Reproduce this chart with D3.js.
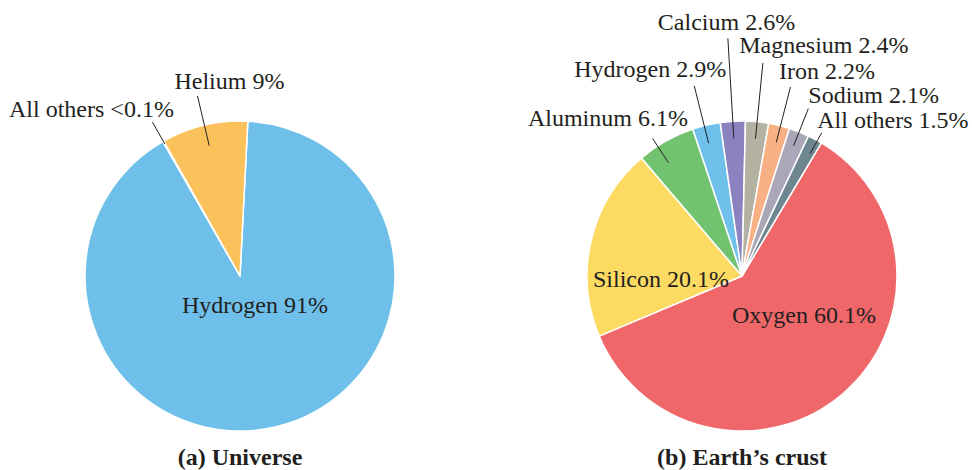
<!DOCTYPE html>
<html>
<head>
<meta charset="utf-8">
<script src="https://cdn.jsdelivr.net/npm/d3@7"></script>
<style>
  body { margin: 0; background: #fff; }
  svg { display: block; }
  text { font-family: "Liberation Serif", "Times New Roman", serif; fill: #231f20; }
  .caption { font-weight: bold; }
  .leader { stroke: #231f20; stroke-width: 1; }
</style>
</head>
<body>
<svg width="972" height="470"></svg>
<script>
// (a) Universe
var universeNames = ["Hydrogen", "All others", "Helium"],
  universeValues = [91, 0.1, 9],
  universeLabels = ["Hydrogen 91%", "All others <0.1%", "Helium 9%"],
  universeColors = ["#6ebfea", "#e8eef2", "#fbc25b"];

// (b) Earth's crust
var crustNames = ["Oxygen", "Silicon", "Aluminum", "Hydrogen", "Calcium",
    "Magnesium", "Iron", "Sodium", "All others"],
  crustValues = [60.1, 20.1, 6.1, 2.9, 2.6, 2.4, 2.2, 2.1, 1.5],
  crustLabels = ["Oxygen 60.1%", "Silicon 20.1%", "Aluminum 6.1%", "Hydrogen 2.9%",
    "Calcium 2.6%", "Magnesium 2.4%", "Iron 2.2%", "Sodium 2.1%", "All others 1.5%"],
  crustColors = ["#f0676a", "#fdda62", "#72c36f", "#6fc0ea", "#8a83c0",
    "#b2b1a2", "#f8b084", "#aaa8b8", "#6e8690"];

var radius = 155,
  fontSize = "24px",
  svg = d3.select("svg");

// label placement: inside labels use dx/dy from the centre, the rest get a radial leader
var universeLayout = [
  {inside: true, dx: 15, dy: 37},
  {r1: 152, r2: 177, da: 0, frac: 0.87, up: 5},
  {r1: 134, r2: 185, da: 0, frac: 0.21, up: 7}
];
var crustLayout = [
  {inside: true, dx: 62, dy: 47},
  {inside: true, dx: -81, dy: 11},
  {r1: 135, r2: 164, da: -3.5, frac: 0.78, up: 12},
  {r1: 137, r2: 196, da: -0.8, frac: 0.79, up: 9},
  {r1: 138, r2: 238, da: 0, frac: 0.51, up: 8},
  {r1: 138, r2: 214, da: 0, frac: 0.14, up: 10},
  {r1: 138, r2: 195, da: 0.5, frac: 0.12, up: 8},
  {r1: 140, r2: 180, da: 0, frac: 0.0, up: 6},
  {r1: 140, r2: 164, da: 1, frac: 0.03, up: 5}
];

function drawPie(cx, cy, startDeg, values, labels, colors, layout, caption) {
  var start = startDeg * Math.PI / 180;
  var pie = d3.pie().sort(null).startAngle(start).endAngle(start + 2 * Math.PI);
  var arc = d3.arc().innerRadius(0).outerRadius(radius);
  var arcs = pie(values);

  var g = svg.append("g").attr("transform", "translate(" + cx + "," + cy + ")");

  g.selectAll("path.slice")
    .data(arcs)
    .enter().append("path")
      .attr("class", "slice")
      .attr("d", arc)
      .attr("fill", function(d, i) { return colors[i]; })
      .attr("stroke", "#fff")
      .attr("stroke-width", 1.5)
      .attr("stroke-linejoin", "round");

  function polar(a, r) {
    return [Math.sin(a) * r, -Math.cos(a) * r];
  }

  arcs.forEach(function(d, i) {
    var l = layout[i];
    if (l.inside) {
      g.append("text")
        .attr("x", l.dx)
        .attr("y", l.dy)
        .attr("text-anchor", "middle")
        .style("font-size", fontSize)
        .text(labels[i]);
      return;
    }
    var mid = (d.startAngle + d.endAngle) / 2 + l.da * Math.PI / 180,
      p1 = polar(mid, l.r1),
      p2 = polar(mid, l.r2);

    g.append("line")
      .attr("class", "leader")
      .attr("x1", p1[0]).attr("y1", p1[1])
      .attr("x2", p2[0]).attr("y2", p2[1]);

    var t = g.append("text")
      .attr("y", p2[1] - l.up)
      .style("font-size", fontSize)
      .text(labels[i]);
    var w = t.node().getComputedTextLength();
    t.attr("x", p2[0] - l.frac * w);
  });

  svg.append("text")
    .attr("class", "caption")
    .attr("x", cx)
    .attr("y", 465)
    .attr("text-anchor", "middle")
    .style("font-size", "24px")
    .text(caption);
}

drawPie(240, 276, 2.9, universeValues, universeLabels, universeColors, universeLayout, "(a) Universe");
drawPie(742, 276, 30.8, crustValues, crustLabels, crustColors, crustLayout, "(b) Earth\u2019s crust");
</script>
</body>
</html>
